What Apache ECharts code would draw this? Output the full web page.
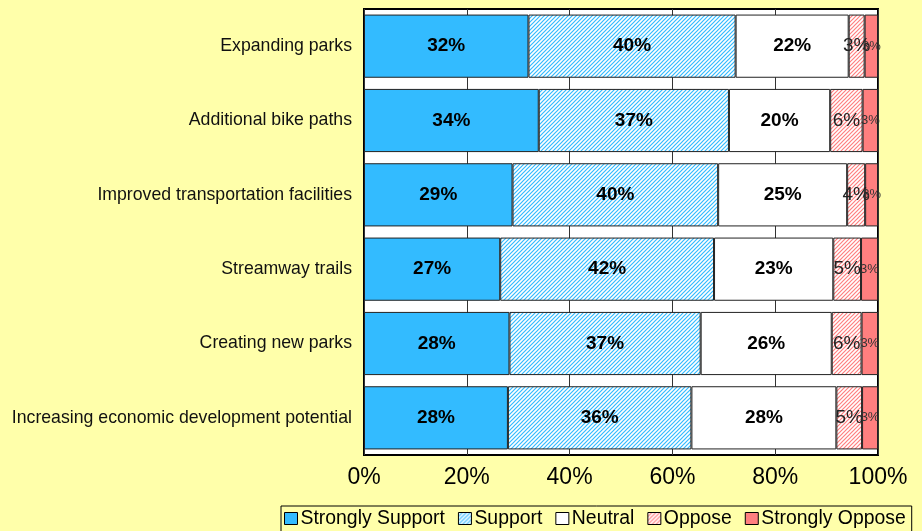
<!DOCTYPE html>
<html>
<head>
<meta charset="utf-8">
<script src="https://cdn.jsdelivr.net/npm/echarts@6/dist/echarts.min.js"></script>
<style>
  html, body { margin: 0; padding: 0; background: #ffffaa; }
  #chart { width: 922px; height: 531px; }
</style>
</head>
<body>
<div id="chart"></div>
<script>
  // categories, top to bottom
  const categories = [
    'Expanding parks',
    'Additional bike paths',
    'Improved transportation facilities',
    'Streamway trails',
    'Creating new parks',
    'Increasing economic development potential'
  ]
  const stronglySupport = [32.0, 34.0, 28.9, 26.5, 28.3, 28.0]
  const support = [40.3, 37.0, 40.0, 41.6, 37.2, 35.7]
  const neutral = [22.0, 19.7, 25.1, 23.2, 25.5, 28.2]
  const oppose = [3.1, 6.3, 3.5, 5.4, 5.8, 5.0]
  const stronglyOppose = [2.6, 3.0, 2.5, 3.3, 3.2, 3.1]
  const xTicks = [0, 20, 40, 60, 80, 100]

  const font = "Arial, 'Liberation Sans', sans-serif"

  // little diagonal hatch tile, like the excel fill
  function hatch(color) {
    const c = document.createElement('canvas')
    c.width = 4
    c.height = 4
    const ctx = c.getContext('2d')
    ctx.fillStyle = '#fff'
    ctx.fillRect(0, 0, 4, 4)
    ctx.strokeStyle = color
    ctx.lineWidth = 1.2
    ctx.beginPath()
    ctx.moveTo(0, 4); ctx.lineTo(4, 0)
    ctx.moveTo(-1, 1); ctx.lineTo(1, -1)
    ctx.moveTo(3, 5); ctx.lineTo(5, 3)
    ctx.stroke()
    return { image: c, repeat: 'repeat' }
  }

  const pct = (p) => Math.round(p.value) + '%'

  const makeSeries = (name, data, color, label) => ({
    name: name,
    type: 'bar',
    stack: 'all',
    data: data,
    barCategoryGap: '15%',
    itemStyle: { color: color, borderColor: '#222', borderWidth: 1 },
    label: Object.assign({
      show: true,
      position: 'inside',
      formatter: pct,
      color: '#000',
      fontFamily: font
    }, label)
  })

  const myChart = echarts.init(document.getElementById('chart'))
  const option = {
    backgroundColor: '#ffffaa',
    animation: false,
    grid: {
      left: 364,
      right: 44,
      top: 9,
      bottom: 76,
      show: true,
      backgroundColor: '#fff',
      borderColor: '#000',
      borderWidth: 2
    },
    legend: {
      left: 281,
      top: 506,
      padding: [3, 6, 6, 3],
      itemGap: 13,
      itemWidth: 13,
      itemHeight: 12,
      icon: 'rect',
      borderColor: '#000',
      borderWidth: 1,
      backgroundColor: '#ffffaa',
      itemStyle: { borderColor: '#000', borderWidth: 1 },
      textStyle: { fontFamily: font, fontSize: 19.4, color: '#000', padding: [0, 0, 0, -2] },
      data: ['Strongly Support', 'Support', 'Neutral', 'Oppose', 'Strongly Oppose']
    },
    xAxis: {
      type: 'value',
      min: xTicks[0],
      max: xTicks[xTicks.length - 1],
      interval: 20,
      axisLine: { show: false },
      axisTick: { show: false },
      splitLine: { show: true, lineStyle: { color: '#333', width: 1 } },
      axisLabel: {
        formatter: '{value}%',
        fontFamily: font,
        fontSize: 23,
        color: '#000',
        margin: 11
      }
    },
    yAxis: {
      type: 'category',
      inverse: true,
      data: categories,
      axisLine: { show: false },
      axisTick: { show: false },
      axisLabel: { fontFamily: font, fontSize: 17.7, color: '#111', margin: 12 }
    },
    series: [
      makeSeries('Strongly Support', stronglySupport, '#33bbff', { fontWeight: 'bold', fontSize: 19 }),
      makeSeries('Support', support, hatch('#33bbff'), { fontWeight: 'bold', fontSize: 19 }),
      makeSeries('Neutral', neutral, '#ffffff', { fontWeight: 'bold', fontSize: 19 }),
      makeSeries('Oppose', oppose, hatch('#ff7f7f'), { fontSize: 19, color: '#222' }),
      makeSeries('Strongly Oppose', stronglyOppose, '#ff7f7f', { fontSize: 13, color: '#333' })
    ]
  }

  option && myChart.setOption(option)
</script>
</body>
</html>
